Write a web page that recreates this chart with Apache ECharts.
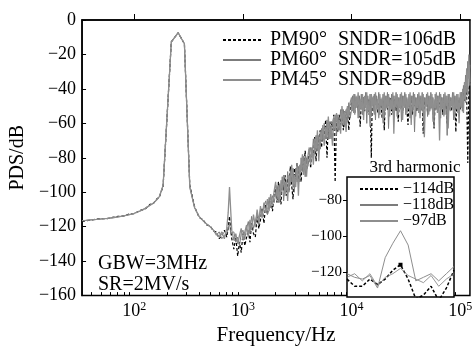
<!DOCTYPE html>
<html><head><meta charset="utf-8">
<script src="https://cdn.jsdelivr.net/npm/echarts@6/dist/echarts.min.js"></script>
<style>html,body{margin:0;padding:0;background:#fff}#c{width:475px;height:351px}</style>
</head><body><div id="c"></div>
<script>
// ---------- data ----------
const freqHz = [
  33, 36, 40, 45, 50, 56, 63, 71, 80, 90, 100, 112, 125, 140, 150, 160, 170, 184, 219, 253, 289, 324, 359, 394, 429, 464, 499, 534,
  569, 604, 639, 674, 709, 731, 752, 772, 789, 824, 859, 894, 929, 964, 1000, 1040, 1080, 1120, 1160, 1200, 1250, 1300, 1350, 1400, 1450, 1500, 1560, 1620, 1680, 1740, 1800, 1870, 1940,
  2000, 2060, 2120, 2180, 2240, 2300, 2370, 2440, 2510, 2580, 2650, 2730, 2810, 2890, 2970, 3060, 3150, 3240, 3330, 3430, 3530, 3630, 3740, 3850, 3960, 4080, 4200, 4320, 4450, 4580, 4710, 4850, 4990, 5140, 5290, 5440, 5600, 5770, 5940, 6110, 6290, 6480, 6670, 6860, 7060, 7270, 7480, 7700, 7930, 8160, 8400, 8650, 8900, 9160, 9430, 9710,
  10000, 10200, 10500, 10700, 11000, 11200, 11500, 11800, 12000, 12300, 12600, 12900, 13200, 13500, 13800, 14100, 14500, 14800, 15200, 15500, 15900, 16200, 16600, 17000, 17400, 17800, 18200, 18600, 19100, 19500,
  20000, 20400, 20900, 21400, 21900, 22400, 22900, 23400, 24000, 24500, 25100, 25700, 26300, 26900, 27500, 28100, 28800, 29500, 30200, 30900, 31600, 32300, 33100, 33800, 34600, 35400, 36300, 37100, 38000, 38900,
  39800, 40700, 41700, 42700, 43700, 44700, 45700, 46800, 47900, 49000, 50100, 51300, 52500, 53700, 55000, 56200, 57500, 58900, 60300, 61700, 63100, 64600, 66100, 67600, 69200, 70800, 72400, 74100, 75900, 77600,
  79400, 81300, 83200, 85100, 87100, 89100, 91200, 93300, 95500, 97700, 100000, 102300, 104700, 107200, 109600, 112200, 114800, 117500, 120200, 123000
];
const pm90 = [
  -117, -116.5, -116.2, -115.6, -115.3, -115.4, -114.6, -114, -113.8, -112.6, -112.4, -110.6, -109.8, -107, -106.5, -104, -102.8, -96.5, -12.7, -7.4, -13.8, -96, -108.5, -114.5, -116, -119, -119.5, -122.5,
  -123, -127, -125, -122, -126, -121, -114, -122, -127, -133, -126, -137, -129, -135, -124, -131, -126, -122, -129, -118, -124, -126, -114, -121, -116, -109, -118, -107, -113, -106, -103, -111, -100,
  -98, -106, -94, -101, -107, -93, -99, -90, -102, -92, -99, -85, -96, -104, -86, -93, -83, -94, -85, -94, -81, -87, -76, -87, -83, -75, -86, -74, -80, -68, -82, -67, -73, -64, -74, -65, -70, -58, -80, -61, -68, -59, -64, -55, -94, -58, -65, -55, -61, -52, -64, -53, -61, -51, -64, -51,
  -48, -51, -46, -54, -45, -49, -47, -52, -62, -47, -50, -45, -53, -47, -49, -46, -55, -48, -80, -46,
  -51, -47, -49, -45, -54, -48, -50, -46, -57, -47, -64, -48, -46, -52, -47, -50, -45, -55, -48, -49,
  -46, -53, -47, -59, -48, -51, -46, -54, -47, -50, -45, -52, -61, -47, -49, -46, -55, -48, -50, -46,
  -53, -47, -49, -45, -52, -48, -66, -47, -50, -46, -54, -48, -47, -51, -45, -53, -63, -47, -49, -46,
  -52, -48, -50, -45, -55, -47, -49, -46, -60, -48, -51, -46, -53, -47, -49, -45, -65, -48, -50, -46,
  -52, -44, -49, -42, -47, -38, -44, -83, -40, -36
];
const pm60 = [
  -116.5, -116.3, -116, -115.8, -115.5, -115.2, -114.8, -114.3, -113.7, -113, -112.2, -111, -109.5, -107.5, -106.3, -104.5, -102.5, -96, -12.7, -7.4, -13.8, -97, -109, -114, -116.5, -118.5, -120, -122,
  -125, -123, -127, -125, -124, -123, -118, -124, -125, -123, -129, -126, -131, -124, -122, -127, -121, -117, -124, -114, -121, -117, -112, -119, -110, -113, -108, -105, -113, -103, -109, -102, -106,
  -105, -96, -106, -95, -101, -91, -105, -94, -99, -88, -100, -88, -94, -86, -100, -86, -94, -85, -94, -80, -88, -79, -91, -80, -85, -86, -74, -79, -69, -78, -67, -76, -67, -75, -63, -70, -60, -69, -58, -69, -59, -69, -59, -64, -55, -67, -55, -64, -52, -60, -52, -62, -52, -59, -48, -57,
  -52, -44, -54, -43, -51, -45, -57, -44, -50, -43, -55, -45, -52, -42, -60, -44, -51, -43, -56, -45,
  -53, -43, -58, -44, -50, -42, -55, -46, -52, -43, -57, -44, -51, -42, -63, -45, -50, -43, -54, -44,
  -52, -42, -56, -45, -51, -43, -59, -44, -50, -42, -55, -45, -52, -43, -57, -44, -50, -42, -65, -45,
  -51, -43, -54, -44, -52, -42, -58, -45, -50, -43, -56, -44, -53, -42, -51, -45, -62, -43, -52, -44,
  -50, -42, -57, -45, -51, -43, -55, -44, -67, -43, -52, -45, -50, -42, -58, -44, -51, -43, -54, -45,
  -50, -41, -53, -38, -46, -32, -42, -24, -34, -26
];
const pm45 = [
  -116.5, -116.3, -116, -115.8, -115.5, -115.2, -114.8, -114.3, -113.7, -113, -112.2, -111, -109.5, -107.5, -106.3, -104.5, -102.5, -96, -12.7, -7.4, -13.8, -97, -109, -114, -116.5, -118.5, -120, -122,
  -124, -126, -123, -127, -121, -112, -97, -111, -122, -128, -124, -130, -125, -121, -128, -123, -119, -126, -116, -122, -113, -120, -110, -117, -108, -115, -106, -112, -104, -111, -101, -108, -99,
  -94, -104, -96, -106, -93, -99, -90, -102, -93, -105, -90, -96, -84, -97, -90, -97, -83, -102, -84, -88, -78, -90, -79, -91, -79, -74, -84, -74, -84, -69, -76, -64, -82, -65, -70, -61, -73, -62, -69, -56, -69, -61, -73, -56, -64, -54, -64, -58, -66, -50, -61, -53, -65, -50, -56, -48,
  -45, -53, -43, -55, -44, -50, -42, -56, -46, -52, -43, -58, -44, -51, -42, -54, -47, -62, -43, -50,
  -44, -55, -42, -52, -46, -57, -43, -50, -45, -60, -42, -53, -44, -51, -43, -56, -46, -52, -42, -66,
  -44, -50, -43, -55, -45, -52, -42, -58, -44, -51, -43, -54, -46, -50, -42, -61, -44, -52, -43, -56,
  -45, -51, -42, -57, -44, -53, -43, -68, -45, -50, -42, -55, -44, -52, -43, -59, -46, -51, -42, -54,
  -44, -70, -43, -52, -45, -56, -42, -50, -44, -63, -43, -53, -45, -51, -42, -57, -44, -52, -43, -60,
  -42, -51, -40, -54, -36, -48, -28, -44, -20, -38
];
// inset: zoom on the 3rd harmonic
const insetFreq = [507, 542, 577, 612, 647, 682, 717, 752, 787, 822, 857, 892, 927, 962, 997];
const inset90 = [-124, -128, -128, -124, -127, -124, -119, -116, -124, -135, -133, -128, -136, -129, -119];
const inset60 = [-123, -121, -125, -121, -128, -123, -121, -118, -122, -124, -126, -122, -128, -124, -121];
const inset45 = [-121, -123, -124, -122, -129, -112, -104, -97, -105, -125, -123, -121, -125, -121, -117];

const seriesNames = ['PM90°', 'PM60°', 'PM45°'];
const sndrLabels = ['SNDR=106dB', 'SNDR=105dB', 'SNDR=89dB'];
const harmonicLabels = ['\u2212114dB', '\u2212118dB', '\u221297dB'];
const xMajorTicks = [100, 1000, 10000, 100000];
const xMinorTicks = [40, 50, 60, 70, 80, 90, 200, 300, 400, 500, 600, 700, 800, 900,
  2000, 3000, 4000, 5000, 6000, 7000, 8000, 9000, 20000, 30000, 40000, 50000, 60000, 70000, 80000, 90000];
const insetYTicks = [-120, -100, -80];

// ---------- chart ----------
const FONT = 'Liberation Serif';
const minus = v => String(v).replace('-', '\u2212');
const pair = (xs, ys) => xs.map((x, i) => [x, ys[i]]);
const chart = echarts.init(document.getElementById('c'), null, { renderer: 'canvas' });

const option = {
  animation: false,
  backgroundColor: '#fff',
  textStyle: { fontFamily: FONT },
  grid: [
    { left: 75, right: 5, top: 20, bottom: 40, show: true, borderColor: '#000', borderWidth: 1.5, backgroundColor: 'transparent', z: 1 },
    { left: 347, width: 107, top: 177, height: 120, show: true, borderColor: '#000', borderWidth: 1.5, backgroundColor: '#fff', z: 5 }
  ],
  xAxis: [
    {
      type: 'log', logBase: 10, gridIndex: 0, min: 33, max: 123000, position: 'bottom',
      axisLine: { lineStyle: { color: '#000', width: 1.5 } },
      axisTick: { inside: true, length: 6, customValues: xMajorTicks, lineStyle: { color: '#000', width: 1 } },
      axisLabel: {
        customValues: xMajorTicks, margin: 5, color: '#000',
        formatter: v => '{b|10}{s|' + Math.round(Math.log10(v)) + '}',
        rich: {
          b: { fontSize: 18, fontFamily: FONT, color: '#000' },
          s: { fontSize: 12, fontFamily: FONT, color: '#000', padding: [0, 0, 9, 0] }
        }
      },
      splitLine: { show: false },
      name: 'Frequency/Hz', nameLocation: 'middle', nameGap: 21,
      nameTextStyle: { fontSize: 21, fontFamily: FONT, color: '#000' }
    },
    {
      type: 'log', logBase: 10, gridIndex: 0, min: 33, max: 123000, position: 'bottom',
      axisLine: { show: false }, axisLabel: { show: false }, splitLine: { show: false },
      axisTick: { inside: true, length: 3.5, customValues: xMinorTicks, lineStyle: { color: '#000', width: 1 } }
    },
    { type: 'value', gridIndex: 1, min: 507, max: 997, show: false }
  ],
  yAxis: [
    {
      type: 'value', gridIndex: 0, min: -160, max: 0, interval: 20,
      axisLine: { show: true, lineStyle: { color: '#000', width: 1.5 } },
      axisTick: { show: true, inside: true, length: 4, lineStyle: { color: '#000' } },
      axisLabel: { color: '#000', fontSize: 18, fontFamily: FONT, margin: 6, formatter: minus },
      splitLine: { show: false },
      name: 'PDS/dB', nameLocation: 'middle', nameGap: 47,
      nameTextStyle: { fontSize: 20, fontFamily: FONT, color: '#000' }
    },
    {
      type: 'value', gridIndex: 1, min: -134, max: -67, z: 6,
      axisLine: { show: false },
      axisTick: { show: true, inside: false, length: 4, customValues: insetYTicks, lineStyle: { color: '#000' } },
      axisLabel: { customValues: insetYTicks, color: '#000', fontSize: 15, fontFamily: FONT, margin: 5, formatter: minus },
      splitLine: { show: false }
    }
  ],
  legend: [
    {
      data: seriesNames, orient: 'vertical', left: 220, top: 29, itemWidth: 38, itemHeight: 12, itemGap: 0,
      padding: [1, 6, 2, 2], backgroundColor: '#fff', z: 10,
      itemStyle: { opacity: 0 },
      textStyle: {
        fontSize: 20, fontFamily: FONT, color: '#000', lineHeight: 20,
        rich: {
          a: { width: 68, fontSize: 20, fontFamily: FONT, color: '#000', padding: [0, 0, 0, 4] },
          b: { fontSize: 20, fontFamily: FONT, color: '#000' }
        }
      },
      formatter: name => '{a|' + name + '}{b|' + sndrLabels[seriesNames.indexOf(name)] + '}'
    },
    {
      data: harmonicLabels, orient: 'vertical', left: 359, top: 181, itemWidth: 38, itemHeight: 10, itemGap: 0,
      padding: 0, z: 10,
      itemStyle: { opacity: 0 },
      textStyle: { fontSize: 16, fontFamily: FONT, color: '#000', lineHeight: 16 }
    }
  ],
  graphic: [
    { type: 'text', left: 98, top: 253, z: 10,
      style: { text: 'GBW=3MHz\nSR=2MV/s', font: '20px "Liberation Serif"', fill: '#000', lineHeight: 21 } },
    { type: 'text', x: 415, y: 168, z: 10,
      style: { text: '3rd harmonic', font: '17px "Liberation Serif"', fill: '#000', align: 'center', verticalAlign: 'middle' } }
  ],
  series: [
    { name: seriesNames[0], type: 'line', xAxisIndex: 0, yAxisIndex: 0, data: pair(freqHz, pm90), symbol: 'none', z: 2,
      lineStyle: { color: '#000', width: 1.2, type: [3, 2] }, itemStyle: { color: '#000' } },
    { name: seriesNames[1], type: 'line', xAxisIndex: 0, yAxisIndex: 0, data: pair(freqHz, pm60), symbol: 'none', z: 3,
      lineStyle: { color: '#7c7c7c', width: 1 }, itemStyle: { color: '#7c7c7c' } },
    { name: seriesNames[2], type: 'line', xAxisIndex: 0, yAxisIndex: 0, data: pair(freqHz, pm45), symbol: 'none', z: 4,
      lineStyle: { color: '#8e8e8e', width: 1.3 }, itemStyle: { color: '#8e8e8e' } },
    { name: harmonicLabels[0], type: 'line', xAxisIndex: 2, yAxisIndex: 1, data: pair(insetFreq, inset90), symbol: 'none', z: 7,
      lineStyle: { color: '#000', width: 1.5, type: [3, 2] }, itemStyle: { color: '#000' },
      markPoint: { symbol: 'rect', symbolSize: 4, label: { show: false }, itemStyle: { color: '#000' },
        data: [{ coord: [insetFreq[7], inset90[7]] }] } },
    { name: harmonicLabels[1], type: 'line', xAxisIndex: 2, yAxisIndex: 1, data: pair(insetFreq, inset60), symbol: 'none', z: 7,
      lineStyle: { color: '#7c7c7c', width: 0.8 }, itemStyle: { color: '#7c7c7c' } },
    { name: harmonicLabels[2], type: 'line', xAxisIndex: 2, yAxisIndex: 1, data: pair(insetFreq, inset45), symbol: 'none', z: 7,
      lineStyle: { color: '#8e8e8e', width: 1 }, itemStyle: { color: '#8e8e8e' } }
  ]
};
chart.setOption(option);
</script>
</body></html>
